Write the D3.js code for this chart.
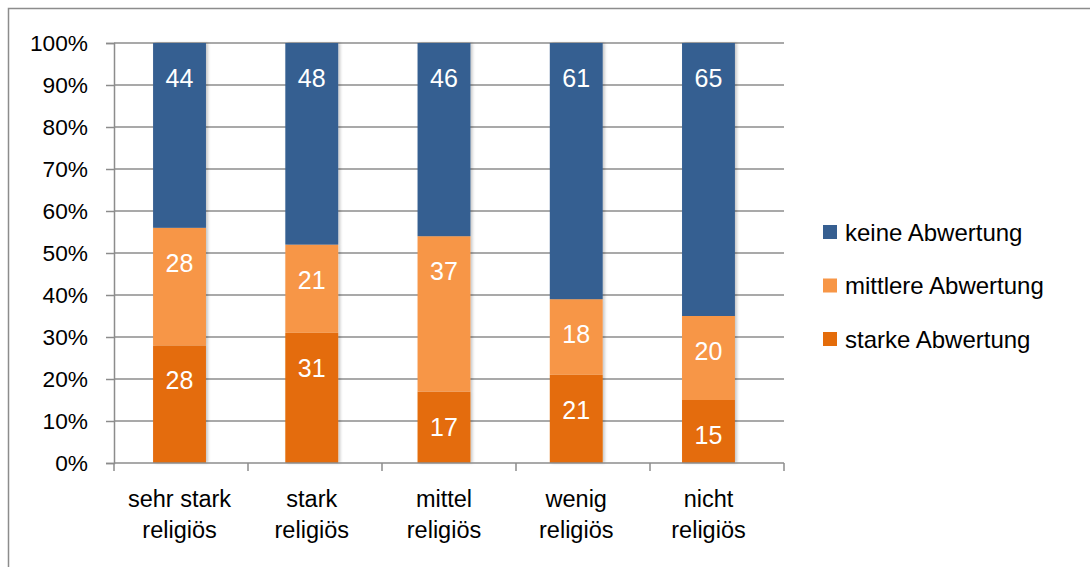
<!DOCTYPE html>
<html><head><meta charset="utf-8">
<script src="https://cdn.jsdelivr.net/npm/d3@7"></script>
<style>html,body{margin:0;padding:0;background:#fff;overflow:hidden}svg{display:block;font-family:"Liberation Sans",Arial,sans-serif}</style>
</head><body>
<svg id="c" width="1090" height="567"></svg>
<script>
const categories = [["sehr stark","religiös"],["stark","religiös"],["mittel","religiös"],["wenig","religiös"],["nicht","religiös"]];
const seriesNames = ["starke Abwertung","mittlere Abwertung","keine Abwertung"];
const starke = [28,31,17,21,15];
const mittlere = [28,21,37,18,20];
const keine = [44,48,46,61,65];
const yTicks = [0,10,20,30,40,50,60,70,80,90,100];
const colors = ["#E46C0A","#F79646","#365F91"];

const svg = d3.select("#c");
const defs = svg.append("defs");
const f = defs.append("filter").attr("id","sh").attr("x","-20%").attr("y","-5%").attr("width","140%").attr("height","110%");
f.append("feDropShadow").attr("dx",2).attr("dy",0).attr("stdDeviation",1.5).attr("flood-color","#000").attr("flood-opacity",0.22);

svg.append("rect").attr("x",8.5).attr("y",8.5).attr("width",1200).attr("height",700)
  .attr("fill","#fff").attr("stroke","#8c8c8c").attr("stroke-width",1.5);

const L=114, R=784, T=43, B=463;
const keys = categories.map(c=>c.join(" "));
const xAxis = d3.scaleBand().domain(keys).range([L,R]);
const x = d3.scaleBand().domain(keys).range([113.4,774.6]).paddingInner(0.6).paddingOuter(0.3);
const y = d3.scaleLinear().domain([0,100]).range([B,T]);

svg.append("g").selectAll("line").data(yTicks.filter(d=>d>0)).join("line")
  .attr("x1",L).attr("x2",R).attr("y1",d=>y(d)).attr("y2",d=>y(d))
  .attr("stroke","#8c8c8c").attr("stroke-width",1.5);

const ya = svg.append("g").attr("transform",`translate(${L},0)`)
  .call(d3.axisLeft(y).tickValues(yTicks).tickFormat(d=>d+"%").tickSize(8).tickPadding(18));
ya.select(".domain").attr("stroke","#8c8c8c").attr("stroke-width",1.5);
ya.selectAll(".tick line").attr("stroke","#8c8c8c").attr("stroke-width",1.5);
ya.selectAll("text").attr("font-size",22.7).attr("fill","#000").attr("font-family","Liberation Sans, Arial, sans-serif");

const rows = keys.map((k,i)=>({key:k, "starke Abwertung":starke[i], "mittlere Abwertung":mittlere[i], "keine Abwertung":keine[i]}));
const stacked = d3.stack().keys(seriesNames)(rows);

const gBars = svg.append("g").attr("filter","url(#sh)");
stacked.forEach((s,si)=>{
  gBars.append("g").selectAll("rect").data(s).join("rect")
    .attr("x",d=>x(d.data.key)).attr("width",x.bandwidth())
    .attr("y",d=>y(d[1])).attr("height",d=>y(d[0])-y(d[1]))
    .attr("fill",colors[si]);
});
stacked.forEach((s,si)=>{
  svg.append("g").selectAll("text").data(s).join("text")
    .attr("x",d=>x(d.data.key)+x.bandwidth()/2)
    .attr("y",d=>y(d[1])+35)
    .attr("dy","0.36em")
    .attr("text-anchor","middle").attr("fill","#fff").attr("font-size",25)
    .text(d=>d[1]-d[0]);
});

svg.append("line").attr("x1",L).attr("x2",R).attr("y1",B).attr("y2",B).attr("stroke","#8c8c8c").attr("stroke-width",1.5);
const bounds = keys.map(k=>xAxis(k)).concat([R]);
svg.append("g").selectAll("line").data(bounds).join("line")
  .attr("x1",d=>d).attr("x2",d=>d).attr("y1",B).attr("y2",B+8)
  .attr("stroke","#8c8c8c").attr("stroke-width",1.5);
const cl = svg.append("g").selectAll("text").data(categories).join("text")
  .attr("text-anchor","middle").attr("font-size",23.5).attr("fill","#000")
  .attr("transform",(d,i)=>`translate(${x(keys[i])+x.bandwidth()/2},0)`);
cl.selectAll("tspan").data(d=>d).join("tspan").attr("x",0).attr("y",(d,j)=>507+j*30.5).text(d=>d);

const legendOrder = ["keine Abwertung","mittlere Abwertung","starke Abwertung"];
const lg = svg.append("g").selectAll("g").data(legendOrder).join("g")
  .attr("transform",(d,i)=>`translate(823,${232+i*53.5})`);
lg.append("rect").attr("x",0).attr("y",-7).attr("width",14).attr("height",14)
  .attr("fill",d=>colors[seriesNames.indexOf(d)]);
lg.append("text").attr("x",22).attr("dy","0.36em").attr("font-size",24).attr("fill","#000").text(d=>d);
</script>
</body></html>
